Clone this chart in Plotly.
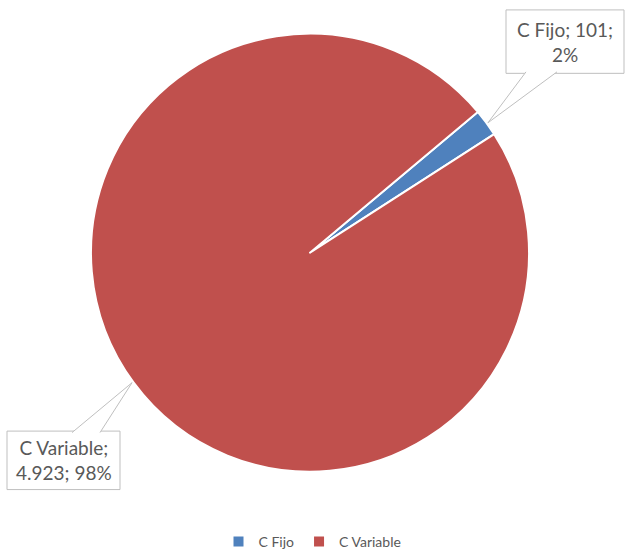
import math
import plotly.graph_objects as go

labels = ["C Fijo", "C Variable"]
values = [101, 4923]
colors = ["#4F81BD", "#C0504D"]
rotation = 50

W, H = 625, 558
cx, cy, R = 310, 255, 221  # pie center / radius in px

fig = go.Figure(go.Pie(
    labels=labels, values=values, sort=False, direction="clockwise",
    rotation=rotation, textinfo="none", hoverinfo="label+value+percent",
    marker=dict(colors=colors, line=dict(color="white", width=2)),
    domain=dict(x=[(cx - R) / W, (cx + R) / W], y=[1 - (cy + R) / H, 1 - (cy - R) / H]),
))

total = sum(values)
def fmt(v):
    return f"{v:,}".replace(",", ".")

# callout boxes (px): x0, y0, x1, y1, pointer base x pair, base on top or bottom
boxes = [
    dict(x0=506, y0=10, x1=624, y1=74, bx=(526, 557), side="bottom"),
    dict(x0=7, y0=435, x1=120, y1=494, bx=(72, 100), side="top"),
]
texts = [
    f"{labels[0]}; {fmt(values[0])};<br>{round(100*values[0]/total)}%",
    f"{labels[1]};<br>{fmt(values[1])}; {round(100*values[1]/total)}%",
]

def px2paper(x, y):
    return x / W, 1 - y / H

shapes = []
annotations = []
acc = 0
for i, v in enumerate(values):
    frac = v / total
    mid = math.radians(rotation + 360 * (acc + frac / 2))
    acc += frac
    tx = cx + R * math.sin(mid)
    ty = cy - R * math.cos(mid)
    b = boxes[i]
    X0, Y0 = px2paper(b["x0"], b["y0"])
    X1, Y1 = px2paper(b["x1"], b["y1"])
    shapes.append(dict(type="rect", xref="paper", yref="paper", x0=X0, y0=Y1, x1=X1, y1=Y0,
                       line=dict(color="#BFBFBF", width=1), fillcolor="white", layer="above"))
    by = b["y1"] - 1.5 if b["side"] == "bottom" else b["y0"] + 1.5
    ax, ay = px2paper(b["bx"][0], by)
    bx2, by2 = px2paper(b["bx"][1], by)
    tpx, tpy = px2paper(tx, ty)
    shapes.append(dict(type="path", xref="paper", yref="paper",
                       path=f"M {ax} {ay} L {tpx} {tpy} L {bx2} {by2}",
                       line=dict(color="#BFBFBF", width=1), fillcolor="white", layer="above"))
    mx, my = px2paper((b["x0"] + b["x1"]) / 2, (b["y0"] + b["y1"]) / 2)
    annotations.append(dict(xref="paper", yref="paper", x=mx, y=my, text=texts[i],
                            showarrow=False, xanchor="center", yanchor="middle", align="center",
                            font=dict(family="Lato", size=19, color="#595959")))

fig.update_layout(
    width=W, height=H, margin=dict(l=0, r=0, t=0, b=0),
    paper_bgcolor="white", plot_bgcolor="white",
    shapes=shapes, annotations=annotations,
    showlegend=True,
    legend=dict(orientation="h", x=0.5, xanchor="center", y=1 - 547 / H, yanchor="middle",
                font=dict(family="Lato", size=14, color="#595959"), itemwidth=30,
                traceorder="normal"),
)

fig.write_html("out.html", config={"displayModeBar": False},
               post_script="document.body.style.margin='0';document.body.style.overflow='hidden';")
